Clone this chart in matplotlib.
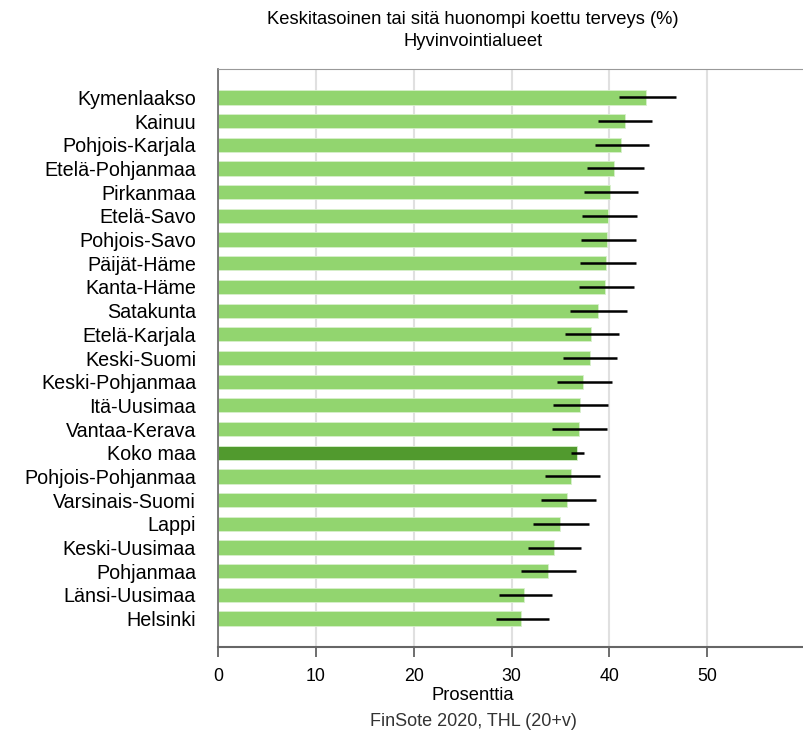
import numpy as np
import matplotlib
matplotlib.use("Agg")
import matplotlib.pyplot as plt

plt.rcParams['font.family'] = ['Liberation Sans', 'DejaVu Sans']

alueet = ["Kymenlaakso", "Kainuu", "Pohjois-Karjala", "Etelä-Pohjanmaa", "Pirkanmaa",
          "Etelä-Savo", "Pohjois-Savo", "Päijät-Häme", "Kanta-Häme", "Satakunta",
          "Etelä-Karjala", "Keski-Suomi", "Keski-Pohjanmaa", "Itä-Uusimaa", "Vantaa-Kerava",
          "Koko maa", "Pohjois-Pohjanmaa", "Varsinais-Suomi", "Lappi", "Keski-Uusimaa",
          "Pohjanmaa", "Länsi-Uusimaa", "Helsinki"]
arvot = [43.8, 41.6, 41.2, 40.5, 40.1, 39.9, 39.8, 39.7, 39.6, 38.8, 38.1, 38.0,
         37.3, 37.0, 36.9, 36.7, 36.1, 35.7, 35.0, 34.3, 33.7, 31.3, 31.0]
ala = [41.0, 38.8, 38.5, 37.7, 37.4, 37.2, 37.1, 37.0, 36.9, 36.0, 35.5, 35.3,
       34.6, 34.2, 34.1, 36.1, 33.4, 33.0, 32.2, 31.7, 31.0, 28.7, 28.4]
yla = [46.8, 44.4, 44.1, 43.6, 42.9, 42.8, 42.7, 42.7, 42.5, 41.8, 41.0, 40.8,
       40.3, 39.9, 39.8, 37.4, 39.0, 38.6, 37.9, 37.1, 36.6, 34.1, 33.8]

vari = ["#519a2e" if a == "Koko maa" else "#92d56f" for a in alueet]
y = np.arange(len(alueet))

fig = plt.figure(figsize=(8.04, 7.31), dpi=100)
ax = fig.add_axes([218.3/804, 1-647/731, 1-218.3/804, (647-69)/731])

ax.barh(y, arvot, height=0.6, color=vari, edgecolor="#d8f0cc", linewidth=0.6, zorder=2)
ax.hlines(y, ala, yla, color="black", linewidth=1.8, zorder=3)

ax.set_xlim(0, 59.92)
ax.set_ylim(len(alueet) - 1 + 1.2, -1.2)
ax.set_xticks([0, 10, 20, 30, 40, 50])
ax.set_yticks(y)
ax.set_yticklabels(alueet, fontsize=14.2)
ax.tick_params(axis="y", length=0, pad=16)
ax.tick_params(axis="x", length=7, width=1.2, color="#555555", labelsize=12.8, pad=8)
ax.grid(True, axis="x", color="#e0e0e0", linewidth=1.5, zorder=0)
ax.set_axisbelow(True)

ax.spines["right"].set_visible(False)
ax.spines["top"].set_color("#999999")
ax.spines["left"].set_color("#666666")
ax.spines["bottom"].set_color("#666666")
ax.spines["bottom"].set_linewidth(1.5)
ax.spines["left"].set_linewidth(1.2)

fig.text(473/804, 1-20/731, "Keskitasoinen tai sitä huonompi koettu terveys (%)",
         ha="center", va="center", fontsize=13.2)
fig.text(473/804, 1-42/731, "Hyvinvointialueet", ha="center", va="center", fontsize=13.2)
fig.text(473/804, 1-695/731, "Prosenttia", ha="center", va="center", fontsize=13.2)
fig.text(473/804, 1-722/731, "FinSote 2020, THL (20+v)", ha="center", va="center",
         fontsize=13, color="#333333")

fig.savefig("out.png", dpi=100)
